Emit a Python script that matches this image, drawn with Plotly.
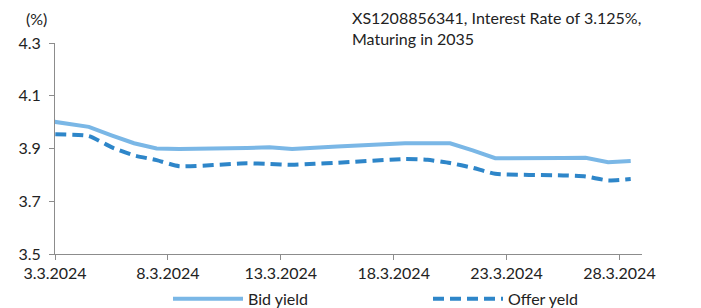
import plotly.graph_objects as go

dates = ["2024-03-01", "2024-03-04", "2024-03-05", "2024-03-06", "2024-03-07", "2024-03-08",
         "2024-03-11", "2024-03-12", "2024-03-13", "2024-03-14", "2024-03-15",
         "2024-03-18", "2024-03-19", "2024-03-20", "2024-03-21", "2024-03-22",
         "2024-03-25", "2024-03-26", "2024-03-27", "2024-03-28"]
bid_yield = [4.020, 3.982, 3.950, 3.920, 3.900, 3.898,
             3.902, 3.905, 3.898, 3.904, 3.908,
             3.920, 3.921, 3.920, 3.893, 3.863,
             3.864, 3.865, 3.848, 3.853]
offer_yield = [3.955, 3.947, 3.905, 3.874, 3.856, 3.833,
               3.844, 3.841, 3.838, 3.842, 3.846,
               3.860, 3.857, 3.845, 3.827, 3.804,
               3.798, 3.794, 3.779, 3.784]
tick_dates = ["2024-03-03", "2024-03-08", "2024-03-13", "2024-03-18", "2024-03-23", "2024-03-28"]
tick_labels = ["3.3.2024", "8.3.2024", "13.3.2024", "18.3.2024", "23.3.2024", "28.3.2024"]
y_ticks = [3.5, 3.7, 3.9, 4.1, 4.3]
title_text = "XS1208856341, Interest Rate of 3.125%,<br>Maturing in 2035"

# plot each daily value at the middle of its day slot
x_vals = [d + " 12:00" for d in dates]

FONT = "Lato"
fig = go.Figure()
fig.add_trace(go.Scatter(x=x_vals, y=bid_yield, mode="lines", name="Bid yield",
                         line=dict(color="#7AB7E6", width=4)))
fig.add_trace(go.Scatter(x=x_vals, y=offer_yield, mode="lines", name="Offer yeld",
                         line=dict(color="#2E86C9", width=4, dash="11px,6px",
                                   shape="spline", smoothing=0.5)))

axis_color = "#8C8C8C"
fig.update_layout(
    width=693, height=300,
    margin=dict(l=47, r=59, t=35, b=54, autoexpand=False),
    paper_bgcolor="white", plot_bgcolor="white",
    font=dict(family=FONT, size=16, color="#222222"),
    showlegend=True,
    legend=dict(orientation="h", x=0.1925, xanchor="left", y=-0.213, yanchor="middle",
                itemwidth=70, entrywidth=175, entrywidthmode="pixels",
                font=dict(family=FONT, size=16, color="#222222"), bgcolor="rgba(0,0,0,0)"),
    xaxis=dict(type="date", range=["2024-03-03", "2024-03-29"],
               tickmode="array", tickvals=tick_dates, ticktext=tick_labels,
               showgrid=False, zeroline=False, showline=True, linecolor=axis_color, linewidth=1,
               ticks="outside", ticklen=5, tickcolor=axis_color,
               tickfont=dict(family=FONT, size=16, color="#222222")),
    yaxis=dict(range=[3.5, 4.3], tickmode="array", tickvals=y_ticks,
               ticktext=[f"{v:.1f}" for v in y_ticks],
               showgrid=False, zeroline=False, showline=True, linecolor=axis_color, linewidth=1,
               ticks="outside", ticklen=5, tickcolor=axis_color, ticklabelstandoff=5,
               tickfont=dict(family=FONT, size=16, color="#222222")),
    annotations=[
        dict(text=title_text, xref="paper", yref="paper", x=0.5026, y=1.0 + 37 / 211,
             xanchor="left", yanchor="top", showarrow=False, align="left",
             font=dict(family=FONT, size=16, color="#222222")),
        dict(text="(%)", xref="paper", yref="paper", x=-0.0315, y=1.0 + 24 / 211,
             xanchor="center", yanchor="middle", showarrow=False,
             font=dict(family=FONT, size=16, color="#222222")),
    ],
)

fig.write_html("out.html")
